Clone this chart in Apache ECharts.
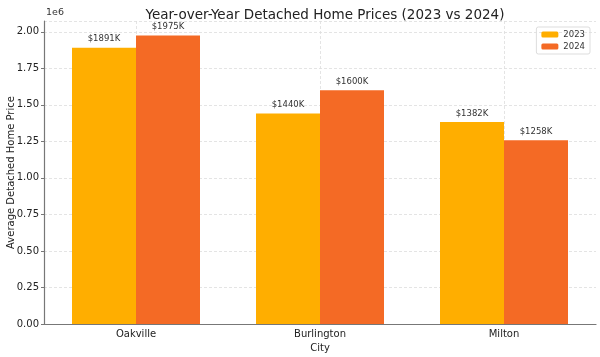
<!DOCTYPE html>
<html><head><meta charset="utf-8">
<script src="https://cdn.jsdelivr.net/npm/echarts@6/dist/echarts.min.js"></script>
<style>html,body{margin:0;padding:0;background:#fff}#c{width:600px;height:357px}</style>
</head><body><div id="c"></div>
<script>
const categories = ['Oakville', 'Burlington', 'Milton'];
const prices2023 = [1891000, 1440000, 1382000];
const prices2024 = [1975000, 1600000, 1258000];
const yTicks = [0, 250000, 500000, 750000, 1000000, 1250000, 1500000, 1750000, 2000000];

const chart = echarts.init(document.getElementById('c'));
const font = 'DejaVu Sans';
const barLabel = {
  show: true, position: 'top', distance: 4, color: '#333', fontFamily: font, fontSize: 8.5,
  formatter: p => '$' + Math.round(p.value / 1000) + 'K'
};
chart.setOption({
  animation: false,
  backgroundColor: '#fff',
  textStyle: { fontFamily: font },
  title: {
    text: 'Year-over-Year Detached Home Prices (2023 vs 2024)',
    left: 320, textAlign: 'center', top: 3,
    textStyle: { fontFamily: font, fontSize: 13.5, fontWeight: 'normal', color: '#222' }
  },
  legend: {
    orient: 'vertical', right: 10, top: 27, itemWidth: 17, itemHeight: 6, itemGap: 3,
    padding: [3, 5, 3, 5], borderColor: '#ddd', borderWidth: 1, borderRadius: 2,
    textStyle: { fontFamily: font, fontSize: 8.5, color: '#333' },
    data: ['2023', '2024']
  },
  graphic: [
    { type: 'text', left: 46, top: 8, style: { text: '1e6', fontFamily: font, fontSize: 9.5, fill: '#333' } }
  ],
  grid: { left: 44, right: 4, top: 21, bottom: 33, outerBoundsMode: 'none', containLabel: false },
  xAxis: {
    type: 'category', data: categories,
    name: 'City', nameLocation: 'middle', nameGap: 18,
    nameTextStyle: { fontFamily: font, fontSize: 10, color: '#222' },
    axisLine: { lineStyle: { color: '#777', width: 1.2 } },
    axisTick: { alignWithLabel: true, length: 3, lineStyle: { color: '#777' } },
    axisLabel: { fontFamily: font, fontSize: 10, color: '#222', margin: 5 },
    splitLine: { show: false }
  },
  yAxis: {
    type: 'value', min: 0, max: 2073750, interval: 250000,
    name: 'Average Detached Home Price', nameLocation: 'middle', nameGap: 28, nameMoveOverlap: false,
    nameTextStyle: { fontFamily: font, fontSize: 10, color: '#222' },
    axisLine: { show: true, lineStyle: { color: '#777', width: 1.2 } },
    axisTick: { show: true, length: 3, lineStyle: { color: '#777' } },
    axisLabel: { fontFamily: font, fontSize: 10, color: '#222', margin: 5, showMaxLabel: false,
      formatter: v => yTicks.includes(v) ? (v / 1e6).toFixed(2) : '' },
    splitLine: { show: true, lineStyle: { color: '#ddd', type: [3, 2], width: 0.8 } }
  },
  series: [
    {
      type: 'line', data: [], silent: true, z: 0,
      markLine: {
        silent: true, symbol: 'none', label: { show: false }, z: 0,
        lineStyle: { color: '#ddd', type: [3, 2], width: 0.8 },
        data: categories.map(c => ({ xAxis: c }))
      }
    },
    { name: '2023', type: 'bar', data: prices2023, barWidth: 64, barGap: '0%', z: 3,
      itemStyle: { color: '#FFAE00' }, label: barLabel },
    { name: '2024', type: 'bar', data: prices2024, barWidth: 64, barGap: '0%', z: 3,
      itemStyle: { color: '#F46A25' }, label: barLabel }
  ]
});
</script></body></html>
